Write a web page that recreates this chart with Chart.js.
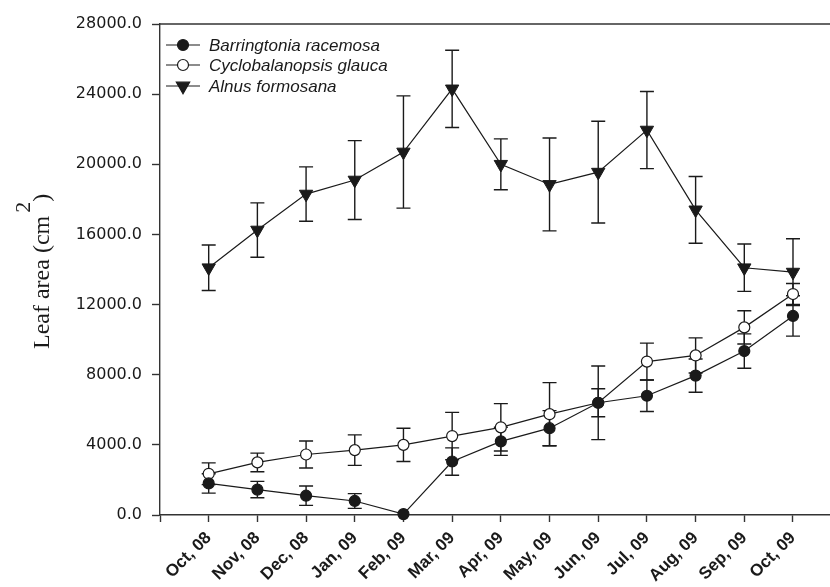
<!DOCTYPE html>
<html>
<head>
<meta charset="utf-8">
<script src="https://cdn.jsdelivr.net/npm/chart.js@4/dist/chart.umd.min.js"></script>
<style>
  html, body { margin: 0; padding: 0; background: #fff; overflow: hidden; }
  #wrap { width: 830px; height: 587px; }
</style>
</head>
<body>
<div id="wrap"><canvas id="canvas"></canvas></div>
<script>
  var months = ["Oct, 08", "Nov, 08", "Dec, 08", "Jan, 09", "Feb, 09", "Mar, 09", "Apr, 09",
                "May, 09", "Jun, 09", "Jul, 09", "Aug, 09", "Sep, 09", "Oct, 09"];
  var yTicks = [0, 4000, 8000, 12000, 16000, 20000, 24000, 28000];

  var barringtonia    = [1800, 1450, 1100, 800, 50, 3050, 4200, 4950, 6400, 6800, 7950, 9350, 11350];
  var barringtoniaErr = [550, 470, 550, 420, 0, 780, 800, 1000, 800, 900, 950, 980, 1150];
  var cyclobalanopsis    = [2350, 3000, 3450, 3700, 4000, 4500, 5000, 5750, 6400, 8750, 9100, 10700, 12600];
  var cyclobalanopsisErr = [620, 530, 770, 870, 950, 1350, 1350, 1800, 2100, 1050, 1000, 950, 600];
  var alnus    = [14100, 16250, 18300, 19100, 20700, 24300, 20000, 18850, 19550, 21950, 17400, 14100, 13850];
  var alnusErr = [1300, 1550, 1550, 2250, 3200, 2200, 1450, 2650, 2900, 2200, 1900, 1350, 1900];

  var ink = "#1a1a1a";

  function toPoints(vals) {
    return vals.map(function(v, i) { return { x: i, y: v }; });
  }

  // error bars go under the markers
  var errorBars = {
    id: "errorBars",
    beforeDatasetsDraw: function(chart) {
      var ctx = chart.ctx, xs = chart.scales.x, ys = chart.scales.y;
      ctx.save();
      ctx.strokeStyle = ink;
      ctx.lineWidth = 1.4;
      chart.data.datasets.forEach(function(ds) {
        ds.data.forEach(function(p, i) {
          var e = ds.errors[i];
          if (!e) return;
          var px = xs.getPixelForValue(p.x);
          var t = ys.getPixelForValue(p.y + e);
          var b = ys.getPixelForValue(Math.max(0, p.y - e));
          ctx.beginPath();
          ctx.moveTo(px, t); ctx.lineTo(px, b);
          ctx.moveTo(px - 7, t); ctx.lineTo(px + 7, t);
          ctx.moveTo(px - 7, b); ctx.lineTo(px + 7, b);
          ctx.stroke();
        });
      });
      ctx.restore();
    }
  };

  function marker(ctx, ds, x, y) {
    ctx.beginPath();
    if (ds.pointStyle === "triangle") {
      var r = ds.pointRadius;
      ctx.moveTo(x, y + r);
      ctx.lineTo(x - r * 0.866, y - r / 2);
      ctx.lineTo(x + r * 0.866, y - r / 2);
      ctx.closePath();
    } else {
      ctx.arc(x, y, ds.pointRadius, 0, Math.PI * 2);
    }
    ctx.fillStyle = ds.pointBackgroundColor;
    ctx.fill();
    ctx.lineWidth = 1.2;
    ctx.strokeStyle = ink;
    ctx.stroke();
  }

  var frame = {
    id: "frame",
    afterDraw: function(chart) {
      var ctx = chart.ctx, a = chart.chartArea;
      ctx.save();
      // top border
      ctx.strokeStyle = "#333";
      ctx.lineWidth = 1.4;
      ctx.beginPath();
      ctx.moveTo(a.left, a.top);
      ctx.lineTo(a.right, a.top);
      ctx.stroke();

      // legend inside plot
      var rows = [a.top + 21, a.top + 41, a.top + 62];
      chart.data.datasets.forEach(function(ds, i) {
        var y = rows[i];
        ctx.strokeStyle = ink;
        ctx.lineWidth = 1.2;
        ctx.beginPath();
        ctx.moveTo(a.left + 6, y);
        ctx.lineTo(a.left + 40, y);
        ctx.stroke();
        marker(ctx, ds, a.left + 23, y);
        ctx.fillStyle = ink;
        ctx.font = "italic 17px 'Liberation Sans'";
        ctx.textAlign = "left";
        ctx.textBaseline = "middle";
        ctx.fillText(ds.label, a.left + 49, y + 1);
      });

      // y title: Leaf area (cm^2)
      ctx.translate(49, 349);
      ctx.rotate(-Math.PI / 2);
      ctx.fillStyle = ink;
      ctx.textBaseline = "alphabetic";
      ctx.textAlign = "left";
      ctx.font = "24px 'Liberation Serif'";
      var w = ctx.measureText("Leaf area (cm").width;
      ctx.fillText("Leaf area (cm", 0, 0);
      ctx.font = "22px 'Liberation Serif'";
      ctx.fillText("2", w + 3, -19);
      ctx.font = "24px 'Liberation Serif'";
      ctx.fillText(")", w + 14, 0);
      ctx.restore();
    }
  };

  var ctx = document.getElementById("canvas").getContext("2d");
  window.myChart = new Chart(ctx, {
    type: "line",
    data: {
      datasets: [{
        label: "Barringtonia racemosa",
        data: toPoints(barringtonia),
        errors: barringtoniaErr,
        clip: false,
        borderColor: ink,
        borderWidth: 1.2,
        pointStyle: "circle",
        pointRadius: 5.5,
        pointBackgroundColor: ink,
        pointBorderColor: ink,
        pointBorderWidth: 1.2
      }, {
        label: "Cyclobalanopsis glauca",
        data: toPoints(cyclobalanopsis),
        errors: cyclobalanopsisErr,
        clip: false,
        borderColor: ink,
        borderWidth: 1.2,
        pointStyle: "circle",
        pointRadius: 5.5,
        pointBackgroundColor: "#fff",
        pointBorderColor: ink,
        pointBorderWidth: 1.2
      }, {
        label: "Alnus formosana",
        data: toPoints(alnus),
        errors: alnusErr,
        clip: false,
        borderColor: ink,
        borderWidth: 1.2,
        pointStyle: "triangle",
        rotation: 180,
        pointRadius: 7.7,
        pointBackgroundColor: ink,
        pointBorderColor: ink,
        pointBorderWidth: 1
      }]
    },
    options: {
      responsive: true,
      maintainAspectRatio: false,
      animation: false,
      layout: { autoPadding: false, padding: { top: 24, right: 0, left: 0, bottom: 0 } },
      plugins: {
        legend: { display: false },
        tooltip: { enabled: false }
      },
      scales: {
        x: {
          type: "linear",
          min: -1,
          max: 12.76,
          afterBuildTicks: function(scale) {
            scale.ticks = [-1].concat(months.map(function(m, i) { return i; }))
              .map(function(v) { return { value: v }; });
          },
          afterFit: function(scale) {
            scale.height = 72;
            scale.paddingRight = 0;
            scale.paddingLeft = 0;
          },
          grid: { drawOnChartArea: false, tickLength: 7, tickColor: "#333", tickWidth: 1.4 },
          border: { color: "#333", width: 1.4 },
          ticks: {
            autoSkip: false,
            minRotation: 45,
            maxRotation: 45,
            padding: 6,
            color: ink,
            font: { family: "'Liberation Sans'", size: 17, weight: "bold" },
            callback: function(v) { return v >= 0 ? months[v] : ""; }
          }
        },
        y: {
          min: 0,
          max: 28000,
          afterBuildTicks: function(scale) {
            scale.ticks = yTicks.map(function(v) { return { value: v }; });
          },
          afterFit: function(scale) { scale.width = 160; },
          grid: { drawOnChartArea: false, tickLength: 8, tickColor: "#333", tickWidth: 1.4 },
          border: { color: "#333", width: 1.4 },
          ticks: {
            padding: 10,
            color: ink,
            font: { family: "'DejaVu Sans'", size: 16 },
            callback: function(v) { return v.toFixed(1); }
          }
        }
      }
    },
    plugins: [errorBars, frame]
  });
</script>
</body>
</html>
